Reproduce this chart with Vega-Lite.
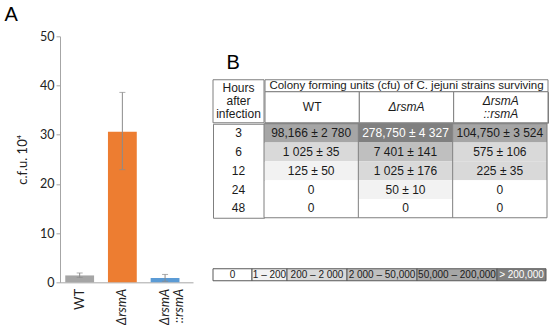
{
  "$schema": "https://vega.github.io/schema/vega-lite/v6.json",
  "padding": {"left": 4, "top": 5, "right": 5, "bottom": 0},
  "background": "white",
  "config": {
    "view": {"stroke": "#7f7f7f", "strokeWidth": 1},
    "concat": {"spacing": 0},
    "font": "Liberation Sans"
  },
  "datasets": {
    "bars": [
      {"strain": "WT", "cfu": 1.4, "lo": 1.0, "hi": 1.9},
      {"strain": "ΔrsmA", "cfu": 30.6, "lo": 22.9, "hi": 38.6},
      {"strain": "ΔrsmA ::rsmA", "cfu": 0.9, "lo": 0.2, "hi": 1.6}
    ],
    "cells": [
      {"hours": "3", "strain": "WT", "value": "98,166 ±  2 780", "cat": "50,000 – 200,000"},
      {"hours": "3", "strain": "ΔrsmA", "value": "278,750 ± 4 327", "cat": "> 200,000"},
      {"hours": "3", "strain": "ΔrsmA ::rsmA", "value": "104,750 ± 3 524", "cat": "50,000 – 200,000"},
      {"hours": "6", "strain": "WT", "value": "1 025 ± 35", "cat": "200 – 2 000"},
      {"hours": "6", "strain": "ΔrsmA", "value": "7 401 ± 141", "cat": "2 000 – 50,000"},
      {"hours": "6", "strain": "ΔrsmA ::rsmA", "value": "575 ± 106", "cat": "200 – 2 000"},
      {"hours": "12", "strain": "WT", "value": "125 ± 50", "cat": "1 – 200"},
      {"hours": "12", "strain": "ΔrsmA", "value": "1 025 ± 176", "cat": "200 – 2 000"},
      {"hours": "12", "strain": "ΔrsmA ::rsmA", "value": "225 ± 35", "cat": "200 – 2 000"},
      {"hours": "24", "strain": "WT", "value": "0", "cat": "0"},
      {"hours": "24", "strain": "ΔrsmA", "value": "50 ± 10", "cat": "1 – 200"},
      {"hours": "24", "strain": "ΔrsmA ::rsmA", "value": "0", "cat": "0"},
      {"hours": "48", "strain": "WT", "value": "0", "cat": "0"},
      {"hours": "48", "strain": "ΔrsmA", "value": "0", "cat": "0"},
      {"hours": "48", "strain": "ΔrsmA ::rsmA", "value": "0", "cat": "0"}
    ],
    "legend": [
      {"cat": "0"},
      {"cat": "1 – 200"},
      {"cat": "200 – 2 000"},
      {"cat": "2 000 – 50,000"},
      {"cat": "50,000 – 200,000"},
      {"cat": "> 200,000"}
    ]
  },
  "hconcat": [
    {
      "width": 133,
      "height": 246,
      "title": {"text": "A", "anchor": "start", "frame": "bounds", "fontSize": 20, "font": "Liberation Sans", "fontWeight": "normal", "color": "#000000", "dx": -12, "offset": 5},
      "data": {"name": "bars"},
      "view": {"stroke": null},
      "encoding": {
        "x": {
          "field": "strain", "type": "nominal",
          "scale": {"domain": ["WT", "ΔrsmA", "ΔrsmA ::rsmA"], "paddingInner": 0.325, "paddingOuter": 0.22, "align": 0.28},
          "axis": {
            "title": null, "labelAngle": -90, "ticks": false, "domainColor": "#a6a6a6",
            "labelFont": "Lato", "labelFontSize": 13, "labelColor": "#222222", "labelPadding": 6,
            "labelLineHeight": 14,
            "labelExpr": "split(datum.value, ' ')",
            "labelFontStyle": {"condition": {"test": "datum.value !== 'WT'", "value": "italic"}, "value": "normal"}
          }
        }
      },
      "layer": [
        {
          "mark": {"type": "bar"},
          "encoding": {
            "y": {
              "field": "cfu", "type": "quantitative", "title": "c.f.u. 10⁴",
              "scale": {"domain": [0, 50]},
              "axis": {
                "values": [0, 10, 20, 30, 40, 50], "title": "c.f.u. 10⁴", "grid": false,
                "domainColor": "#a6a6a6", "tickColor": "#a6a6a6", "tickSize": 4,
                "labelFont": "Lato", "labelFontSize": 12.5, "labelColor": "#222222", "labelPadding": 2,
                "titleFont": "Lato", "titleFontSize": 13, "titleFontWeight": "normal", "titleColor": "#222222", "titlePadding": 10
              }
            },
            "fill": {
              "field": "strain", "type": "nominal",
              "scale": {"domain": ["WT", "ΔrsmA", "ΔrsmA ::rsmA"], "range": ["#a5a5a5", "#ed7d31", "#5b9bd5"]},
              "legend": null
            }
          }
        },
        {
          "mark": {"type": "errorbar", "ticks": {"size": 6}, "color": "#8c8c8c", "thickness": 1},
          "encoding": {
            "y": {"field": "lo", "type": "quantitative", "title": "c.f.u. 10⁴"},
            "y2": {"field": "hi"}
          }
        }
      ]
    },
    {
      "spacing": 49,
      "vconcat": [
        {
          "title": {"text": "B", "anchor": "start", "fontSize": 20, "font": "Liberation Sans", "fontWeight": "normal", "color": "#000000", "dx": 14, "offset": 6},
          "spacing": -1,
          "vconcat": [
            {
              "spacing": -1,
              "hconcat": [
                {
                  "width": 51,
                  "height": 43,
                  "data": {"values": [{"t": "Hours after infection"}]},
                  "view": {"stroke": null},
                  "layer": [
                    {"mark": {"type": "rect", "fill": null, "fillOpacity": 0, "stroke": "#7f7f7f", "strokeWidth": 1}, "encoding": {}},
                    {
                      "mark": {"type": "text", "lineBreak": " ", "fontSize": 12, "lineHeight": 13, "dy": -13, "color": "#1a1a1a", "font": "Liberation Sans"},
                      "encoding": {"text": {"field": "t"}}
                    }
                  ]
                },
                {
                  "spacing": 0,
                  "bounds": "flush",
                  "vconcat": [
                    {
                      "width": 283,
                      "height": 12,
                      "data": {"values": [{"t": "Colony forming units (cfu) of C. jejuni strains surviving"}]},
                      "view": {"stroke": null},
                      "layer": [
                        {"mark": {"type": "rect", "fill": null, "fillOpacity": 0, "stroke": "#7f7f7f", "strokeWidth": 1}, "encoding": {}},
                        {
                          "mark": {"type": "text", "fontSize": 11.5, "color": "#1a1a1a", "font": "Liberation Sans"},
                          "encoding": {"text": {"field": "t"}}
                        }
                      ]
                    },
                    {
                      "width": 283,
                      "height": 31,
                      "data": {"name": "cells"},
                      "transform": [{"filter": "datum.hours === '3'"}],
                      "encoding": {
                        "x": {"field": "strain", "type": "nominal", "axis": null,
                          "scale": {"domain": ["WT", "ΔrsmA", "ΔrsmA ::rsmA"], "paddingInner": 0, "paddingOuter": 0}}
                      },
                      "layer": [
                        {"mark": {"type": "rect", "fill": "white", "stroke": "#7f7f7f", "strokeWidth": 1}},
                        {
                          "transform": [{"filter": "datum.strain === 'WT'"}],
                          "mark": {"type": "text", "fontSize": 12, "color": "#1a1a1a", "font": "Liberation Sans"},
                          "encoding": {"text": {"field": "strain"}}
                        },
                        {
                          "transform": [{"filter": "datum.strain === 'ΔrsmA'"}],
                          "mark": {"type": "text", "fontSize": 12, "fontStyle": "italic", "color": "#1a1a1a", "font": "Liberation Sans"},
                          "encoding": {"text": {"field": "strain"}}
                        },
                        {
                          "transform": [{"filter": "datum.strain === 'ΔrsmA ::rsmA'"}],
                          "mark": {"type": "text", "fontSize": 12, "lineBreak": " ", "lineHeight": 13, "dy": -6.5, "fontStyle": "italic", "color": "#1a1a1a", "font": "Liberation Sans"},
                          "encoding": {"text": {"field": "strain"}}
                        }
                      ]
                    }
                  ]
                }
              ]
            },
            {
              "spacing": 0,
              "bounds": "flush",
              "hconcat": [
                {
                  "width": 51,
                  "height": 94,
                  "data": {"name": "cells"},
                  "transform": [{"filter": "datum.strain === 'WT'"}],
                  "mark": {"type": "text", "fontSize": 12, "color": "#1a1a1a", "font": "Liberation Sans"},
                  "encoding": {
                    "y": {"field": "hours", "type": "nominal", "axis": null,
                      "scale": {"domain": ["3", "6", "12", "24", "48"], "paddingInner": 0, "paddingOuter": 0}},
                    "text": {"field": "hours"}
                  }
                },
                {
                  "width": 283,
                  "height": 94,
                  "data": {"name": "cells"},
                  "view": {"stroke": null},
                  "layer": [
                    {
                      "mark": {"type": "rect"},
                      "encoding": {
                        "x": {"field": "strain", "type": "nominal", "axis": null,
                          "scale": {"domain": ["WT", "ΔrsmA", "ΔrsmA ::rsmA"], "paddingInner": 0, "paddingOuter": 0}},
                        "y": {"field": "hours", "type": "nominal", "axis": null,
                          "scale": {"domain": ["3", "6", "12", "24", "48"], "paddingInner": 0, "paddingOuter": 0}},
                        "color": {"field": "cat", "type": "nominal", "legend": null,
                          "scale": {"domain": ["0", "1 – 200", "200 – 2 000", "2 000 – 50,000", "50,000 – 200,000", "> 200,000"],
                            "range": ["#ffffff", "#f2f2f2", "#d9d9d9", "#bfbfbf", "#a6a6a6", "#808080"]}}
                      }
                    },
                    {
                      "transform": [{"filter": "datum.hours === '3' && datum.strain !== 'WT'"}],
                      "mark": {"type": "rule", "color": "#7f7f7f", "strokeWidth": 1},
                      "encoding": {
                        "x": {"field": "strain", "type": "nominal", "bandPosition": 0}
                      }
                    },
                    {
                      "mark": {"type": "text", "fontSize": 12, "font": "Liberation Sans"},
                      "encoding": {
                        "x": {"field": "strain", "type": "nominal"},
                        "y": {"field": "hours", "type": "nominal"},
                        "text": {"field": "value"},
                        "color": {"condition": {"test": "datum.cat === '> 200,000'", "value": "#ffffff"}, "value": "#1a1a1a"}
                      }
                    },
                    {
                      "transform": [{"filter": "datum.hours === '3' && datum.strain === 'WT'"}],
                      "mark": {"type": "rect", "fill": null, "fillOpacity": 0, "stroke": "#7f7f7f", "strokeWidth": 1},
                      "encoding": {}
                    }
                  ]
                }
              ]
            }
          ]
        },
        {
          "spacing": 0,
          "bounds": "flush",
          "hconcat": [
            {
              "width": 39, "height": 12, "data": {"name": "legend"},
              "transform": [{"filter": "datum.cat === '0'"}],
              "view": {"stroke": null},
              "layer": [
                {"mark": {"type": "rect", "stroke": "#595959", "strokeWidth": 1}, "encoding": {"color": {"field": "cat", "type": "nominal", "legend": null}}},
                {"mark": {"type": "text", "fontSize": 10, "font": "Liberation Sans", "color": "#1a1a1a"}, "encoding": {"text": {"field": "cat"}}}
              ]
            },
            {
              "width": 35, "height": 12, "data": {"name": "legend"},
              "transform": [{"filter": "datum.cat === '1 – 200'"}],
              "view": {"stroke": null},
              "layer": [
                {"mark": {"type": "rect", "stroke": "#595959", "strokeWidth": 1}, "encoding": {"color": {"field": "cat", "type": "nominal", "legend": null}}},
                {"mark": {"type": "text", "fontSize": 10, "font": "Liberation Sans", "color": "#1a1a1a"}, "encoding": {"text": {"field": "cat"}}}
              ]
            },
            {
              "width": 60, "height": 12, "data": {"name": "legend"},
              "transform": [{"filter": "datum.cat === '200 – 2 000'"}],
              "view": {"stroke": null},
              "layer": [
                {"mark": {"type": "rect", "stroke": "#595959", "strokeWidth": 1}, "encoding": {"color": {"field": "cat", "type": "nominal", "legend": null}}},
                {"mark": {"type": "text", "fontSize": 10, "font": "Liberation Sans", "color": "#1a1a1a"}, "encoding": {"text": {"field": "cat"}}}
              ]
            },
            {
              "width": 70, "height": 12, "data": {"name": "legend"},
              "transform": [{"filter": "datum.cat === '2 000 – 50,000'"}],
              "view": {"stroke": null},
              "layer": [
                {"mark": {"type": "rect", "stroke": "#595959", "strokeWidth": 1}, "encoding": {"color": {"field": "cat", "type": "nominal", "legend": null}}},
                {"mark": {"type": "text", "fontSize": 10, "font": "Liberation Sans", "color": "#1a1a1a"}, "encoding": {"text": {"field": "cat"}}}
              ]
            },
            {
              "width": 80, "height": 12, "data": {"name": "legend"},
              "transform": [{"filter": "datum.cat === '50,000 – 200,000'"}],
              "view": {"stroke": null},
              "layer": [
                {"mark": {"type": "rect", "stroke": "#595959", "strokeWidth": 1}, "encoding": {"color": {"field": "cat", "type": "nominal", "legend": null}}},
                {"mark": {"type": "text", "fontSize": 10, "font": "Liberation Sans", "color": "#1a1a1a"}, "encoding": {"text": {"field": "cat"}}}
              ]
            },
            {
              "width": 49, "height": 12, "data": {"name": "legend"},
              "transform": [{"filter": "datum.cat === '> 200,000'"}],
              "view": {"stroke": null},
              "layer": [
                {"mark": {"type": "rect", "stroke": "#595959", "strokeWidth": 1}, "encoding": {"color": {"field": "cat", "type": "nominal", "legend": null}}},
                {"mark": {"type": "text", "fontSize": 10, "font": "Liberation Sans", "color": "#ffffff"}, "encoding": {"text": {"field": "cat"}}}
              ]
            }
          ]
        }
      ]
    }
  ],
  "spacing": 19,
  "center": true
}
